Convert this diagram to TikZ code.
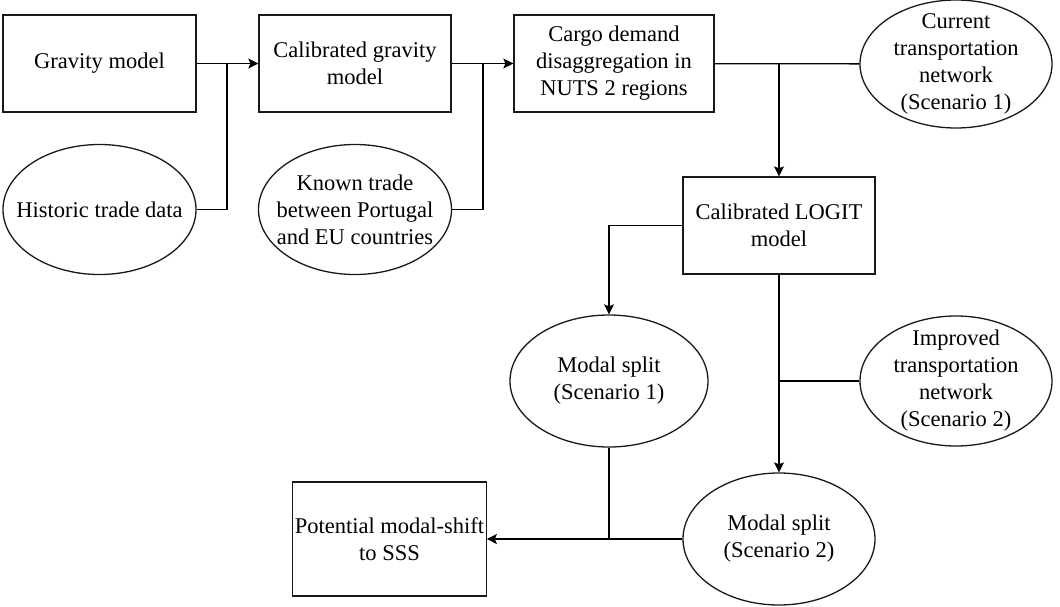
\documentclass[tikz,border=0pt]{standalone}
\usepackage{fontspec}
\setmainfont{Liberation Serif}
\usetikzlibrary{arrows.meta,shapes.geometric}
\tikzset{box/.style={draw=black!90,line width=1.3pt,align=center,minimum width=193pt,minimum height=97pt,inner sep=2pt,font=\fontsize{22.5}{27}\selectfont},oval/.style={ellipse,draw=black!90,line width=1.3pt,align=center,minimum width=193pt,minimum height=130pt,inner xsep=-16pt,inner ysep=-12pt,font=\fontsize{22.5}{27}\selectfont},arrow/.style={-{Stealth[length=10pt,width=10pt,inset=2pt]},line width=1.3pt},link/.style={line width=1.3pt}}
\begin{document}
\begin{tikzpicture}[x=1pt,y=-1pt]
\useasboundingbox (0,0) rectangle (1060,606);
\node[box] (grav) at (99.5,63.5) {Gravity model};
\node[oval] (hist) at (99.5,209.5) {Historic trade data};
\node[box,minimum width=192pt] (calgrav) at (355,63.5) {Calibrated gravity\\model};
\node[oval] (known) at (355,209.5) {Known trade\\between Portugal\\and EU countries};
\node[box,minimum width=200pt] (cargo) at (614,63.5) {Cargo demand\\disaggregation in\\NUTS 2 regions};
\node[oval,minimum width=192pt,minimum height=128pt] (current) at (956,64) {Current\\transportation\\network\\(Scenario 1)};
\node[box,minimum width=192pt] (logit) at (779,225.5) {Calibrated LOGIT\\model};
\node[oval,minimum width=198pt,minimum height=132pt] (ms1) at (609,381) {Modal split\\(Scenario 1)};
\node[oval,minimum width=192pt] (improved) at (956,381) {Improved\\transportation\\network\\(Scenario 2)};
\node[oval,minimum width=192pt,minimum height=132pt] (ms2) at (779,539) {Modal split\\(Scenario 2)};
\node[box,minimum height=114pt] (pot) at (389.5,539) {Potential modal-shift\\to SSS};
% junctions
\coordinate (j1) at (227,63.5);
\coordinate (j2) at (483,63.5);
\coordinate (j3) at (779,63.5);
\coordinate (j4) at (779,381);
\coordinate (j5) at (609,539);
\draw[arrow] (grav) -- (calgrav);
\draw[link] (hist.east) -| (j1);
\draw[arrow] (calgrav) -- (cargo);
\draw[link] (known.east) -| (j2);
\draw[link] (cargo) -- (current);
\draw[arrow] (j3) -- (logit);
\draw[arrow] (logit.west) -| (ms1.north);
\draw[arrow] (logit) -- (ms2);
\draw[link] (improved) -- (j4);
\draw[arrow] (ms2) -- (pot);
\draw[link] (ms1) -- (j5);
\end{tikzpicture}
\end{document}
